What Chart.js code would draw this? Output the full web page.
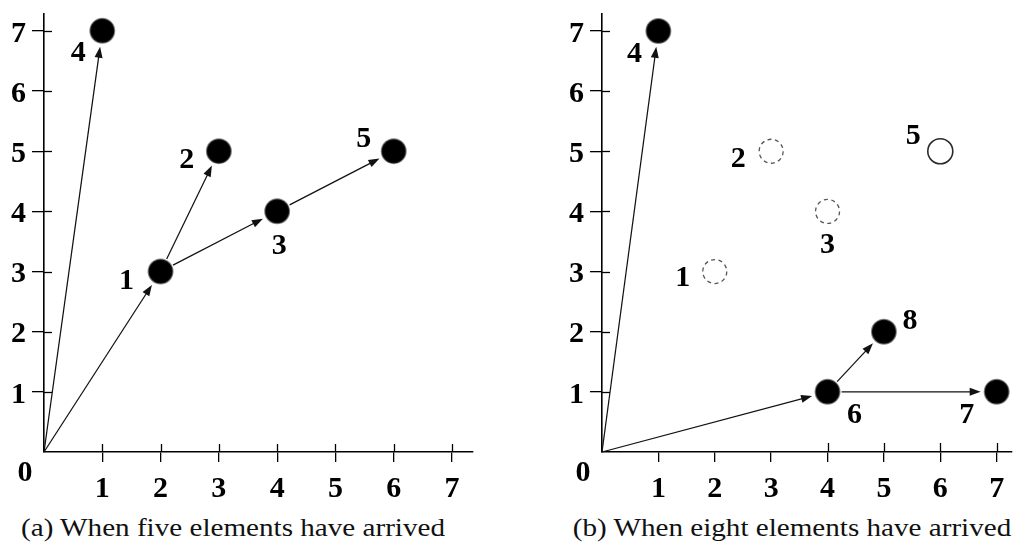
<!DOCTYPE html>
<html>
<head>
<meta charset="utf-8">
<script src="https://cdn.jsdelivr.net/npm/chart.js@4.4.1/dist/chart.umd.min.js"></script>
<style>
  html, body { margin: 0; padding: 0; background: #fff; }
  #wrap { position: relative; width: 1026px; height: 546px; overflow: hidden; }
  .panel { position: absolute; top: 0; width: 513px; height: 510px; }
  .caption {
    position: absolute; top: 513px;
    font-family: 'Liberation Serif', 'Times New Roman', serif;
    font-size: 26px; line-height: 30px; color: #111;
    white-space: nowrap; transform: translateX(-50%) scaleX(1.12);
  }
</style>
</head>
<body>
<div id="wrap">
  <div class="panel" style="left:0"><canvas id="chartA" width="513" height="510"></canvas></div>
  <div class="panel" style="left:513px"><canvas id="chartB" width="513" height="510"></canvas></div>
  <div class="caption" style="left:233px">(a) When five elements have arrived</div>
  <div class="caption" style="left:792px">(b) When eight elements have arrived</div>
</div>
<script>
// Axis ticks shared by both panels
const tickValues = [1, 2, 3, 4, 5, 6, 7];
const originLabel = '0';

// (a) five elements have arrived
const idsA = ['1', '2', '3', '4', '5'];
const xA = [2, 3, 4, 1, 6];
const yA = [3, 5, 4, 7, 5];
const edgesA = [['0', '1'], ['0', '4'], ['1', '2'], ['1', '3'], ['3', '5']];

// (b) eight elements have arrived
const liveIdsB = ['4', '6', '7', '8'];
const liveXB = [1, 4, 7, 5];
const liveYB = [7, 1, 1, 2];
const goneIdsB = ['1', '2', '3'];
const goneXB = [2, 3, 4];
const goneYB = [3, 5, 4];
const openIdsB = ['5'];
const openXB = [6];
const openYB = [5];
const edgesB = [['0', '4'], ['0', '6'], ['6', '8'], ['6', '7']];

// Label placement around each node (pixels from the node centre)
const labelOffsetA = { '1': [-34, 7], '2': [-32, 7], '3': [2, 33], '4': [-24, 20], '5': [-30, -14] };
const labelOffsetB = { '1': [-32, 4], '2': [-33, 6], '3': [0, 32], '4': [-24, 21],
                       '5': [-27, -17], '6': [27, 21], '7': [-30, 21], '8': [26, -13] };

const serifBold = { family: "'Liberation Serif', 'Times New Roman', serif", weight: 'bold', size: 30 };
const fontCss = "bold 30px 'Liberation Serif', 'Times New Roman', serif";

function points(xs, ys) {
  return xs.map((x, i) => ({ x: x, y: ys[i] }));
}

const filledStyle = {
  pointRadius: 12, pointBackgroundColor: '#000',
  pointBorderColor: 'rgba(30,30,30,0.55)', pointBorderWidth: 2,
  showLine: false, clip: false
};
const dashedStyle = {
  pointRadius: 12, pointBackgroundColor: 'rgba(0,0,0,0)',
  pointBorderColor: '#555', pointBorderWidth: 1.3,
  pointBorderDash: [4, 3.5], showLine: false, clip: false
};
const openStyle = {
  pointRadius: 12.5, pointBackgroundColor: 'rgba(0,0,0,0)',
  pointBorderColor: '#2a2a2a', pointBorderWidth: 1.6,
  showLine: false, clip: false
};

function drawArrow(ctx, x0, y0, x1, y1, startGap, endGap) {
  const dx = x1 - x0, dy = y1 - y0;
  const len = Math.hypot(dx, dy);
  const ux = dx / len, uy = dy / len;
  const head = 11, half = 4;
  const sx = x0 + ux * startGap, sy = y0 + uy * startGap;
  const tx = x1 - ux * endGap, ty = y1 - uy * endGap;
  const bx = tx - ux * head, by = ty - uy * head;
  ctx.beginPath();
  ctx.moveTo(sx, sy);
  ctx.lineTo(bx + ux * 2, by + uy * 2);
  ctx.stroke();
  ctx.beginPath();
  ctx.moveTo(tx, ty);
  ctx.lineTo(bx - uy * half, by + ux * half);
  ctx.lineTo(bx + uy * half, by - ux * half);
  ctx.closePath();
  ctx.fill();
}

// Arrows, node labels, dashed outlines, inner tick marks and the origin label
function makeGraphPlugin(cfg) {
  function nodePixels(chart) {
    const pos = {};
    pos['0'] = { x: chart.scales.x.getPixelForValue(0), y: chart.scales.y.getPixelForValue(0) };
    chart.data.datasets.forEach((ds, di) => {
      chart.getDatasetMeta(di).data.forEach((el, i) => { pos[ds.ids[i]] = { x: el.x, y: el.y }; });
    });
    return pos;
  }
  return {
    id: 'graph',
    beforeDatasetsDraw(chart) {
      const ctx = chart.ctx;
      const pos = nodePixels(chart);
      ctx.save();
      ctx.strokeStyle = '#111';
      ctx.fillStyle = '#111';
      ctx.lineWidth = 1.25;
      cfg.edges.forEach(([from, to]) => {
        const a = pos[from], b = pos[to];
        drawArrow(ctx, a.x, a.y, b.x, b.y, from === '0' ? 0 : 14, 16);
      });
      ctx.restore();
    },
    beforeDatasetDraw(chart, args) {
      const dash = chart.data.datasets[args.index].pointBorderDash;
      chart.ctx.save();
      if (dash) chart.ctx.setLineDash(dash);
    },
    afterDatasetDraw(chart) {
      chart.ctx.restore();
    },
    afterDatasetsDraw(chart) {
      const ctx = chart.ctx;
      const xs = chart.scales.x, ys = chart.scales.y;
      const area = chart.chartArea;
      ctx.save();
      // inner halves of the tick marks
      ctx.strokeStyle = '#000';
      ctx.lineWidth = 1.3;
      xs.ticks.forEach((t, i) => {
        const len = cfg.innerX[i];
        if (!len) return;
        const px = Math.round(xs.getPixelForValue(t.value)) + 0.5;
        ctx.beginPath(); ctx.moveTo(px, area.bottom); ctx.lineTo(px, area.bottom - len); ctx.stroke();
      });
      ys.ticks.forEach((t) => {
        const py = Math.round(ys.getPixelForValue(t.value)) + 0.5;
        ctx.beginPath(); ctx.moveTo(area.left, py); ctx.lineTo(area.left + cfg.innerY, py); ctx.stroke();
      });
      // node labels
      ctx.fillStyle = '#000';
      ctx.font = fontCss;
      ctx.textAlign = 'center';
      ctx.textBaseline = 'alphabetic';
      chart.data.datasets.forEach((ds, di) => {
        chart.getDatasetMeta(di).data.forEach((el, i) => {
          const id = ds.ids[i];
          const off = cfg.labelOffset[id];
          ctx.fillText(id, el.x + off[0], el.y + off[1] + 10);
        });
      });
      // origin label
      const ox = xs.getPixelForValue(0), oy = ys.getPixelForValue(0);
      ctx.fillText(originLabel, ox - 19, oy + 19 + 10);
      ctx.restore();
    }
  };
}

function makePanel(canvasId, cfg) {
  return new Chart(document.getElementById(canvasId), {
    type: 'scatter',
    data: { datasets: cfg.datasets },
    options: {
      responsive: false,
      maintainAspectRatio: false,
      animation: false,
      events: [],
      layout: { padding: { top: 8, right: cfg.padRight, bottom: 0, left: 0 } },
      plugins: { legend: { display: false }, tooltip: { enabled: false }, title: { display: false } },
      scales: {
        x: {
          type: 'linear', position: 'bottom', min: 0, max: cfg.xMax,
          afterBuildTicks: (s) => { s.ticks = tickValues.map(v => ({ value: v })); },
          afterFit: (s) => { s.height = 58; s.paddingLeft = 0; s.paddingRight = 0; },
          grid: { drawOnChartArea: false, drawTicks: true, tickLength: 10, color: '#000', lineWidth: 1.3 },
          border: { display: true, color: '#000', width: 1.6 },
          ticks: { font: serifBold, color: '#000', padding: 9, autoSkip: false, maxRotation: 0, minRotation: 0 }
        },
        y: {
          type: 'linear', position: 'left', min: 0, max: 7.28,
          afterBuildTicks: (s) => { s.ticks = tickValues.map(v => ({ value: v })); },
          afterFit: (s) => { s.width = cfg.yWidth; s.paddingTop = 0; s.paddingBottom = 0; },
          grid: { drawOnChartArea: false, drawTicks: true, tickLength: 12, color: '#000', lineWidth: 1.3 },
          border: { display: true, color: '#000', width: 1.6 },
          ticks: { font: serifBold, color: '#000', padding: 6, labelOffset: 3, autoSkip: false }
        }
      }
    },
    plugins: [makeGraphPlugin(cfg)]
  });
}

makePanel('chartA', {
  datasets: [
    Object.assign({ data: points(xA, yA), ids: idsA }, filledStyle)
  ],
  edges: edgesA,
  labelOffset: labelOffsetA,
  innerX: [8, 8, 8, 8, 8, 8, 8],
  innerY: 8,
  padRight: 40,
  xMax: 7.36,
  yWidth: 44
});

makePanel('chartB', {
  datasets: [
    Object.assign({ data: points(goneXB, goneYB), ids: goneIdsB }, dashedStyle),
    Object.assign({ data: points(openXB, openYB), ids: openIdsB }, openStyle),
    Object.assign({ data: points(liveXB, liveYB), ids: liveIdsB }, filledStyle)
  ],
  edges: edgesB,
  labelOffset: labelOffsetB,
  innerX: [0, 0, 0, 9, 9, 9, 9],
  innerY: 8,
  padRight: 0,
  xMax: 7.27,
  yWidth: 89
});
</script>
</body>
</html>
